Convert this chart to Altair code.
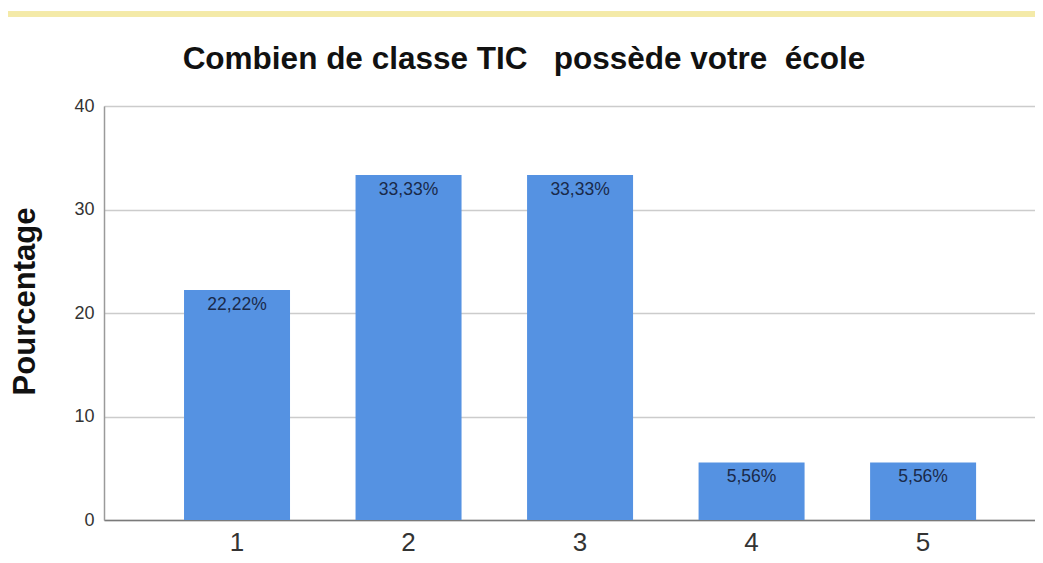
import altair as alt
import pandas as pd

categories = ["1", "2", "3", "4", "5"]
values = [22.22, 33.33, 33.33, 5.56, 5.56]
labels = ["22,22%", "33,33%", "33,33%", "5,56%", "5,56%"]
title_text = ["Combien de classe TIC\u00a0\u00a0 possède votre\u00a0 école"]

df = pd.DataFrame({"cat": categories, "pct": values, "label": labels})
tdf = pd.DataFrame({"t": title_text})

W, H = 931, 414

xscale = alt.Scale(paddingInner=0.382, paddingOuter=0.405, align=0.576)

base = alt.Chart(df)

bars = base.mark_bar(color="#5592e2").encode(
    x=alt.X("cat:N", scale=xscale, sort=categories,
            axis=alt.Axis(title=None, labelAngle=0, labelFontSize=26, labelColor="#333333",
                          labelFont="Liberation Sans", labelPadding=9, ticks=False,
                          domainColor="#7a7a7a", domainWidth=1.5, grid=False)),
    y=alt.Y("pct:Q", scale=alt.Scale(domain=[0, 40]),
            axis=alt.Axis(title="Pourcentage", values=[0, 10, 20, 30, 40], ticks=False,
                          labelFontSize=18, labelColor="#333333", labelFont="Liberation Sans",
                          labelPadding=10, titleFontSize=31, titleFont="Liberation Sans",
                          titleFontWeight="bold", titleColor="#111111",
                          titleX=-79, titleY=195, titleAngle=270, titleAlign="center",
                          titleBaseline="middle",
                          gridColor="#cccccc", gridWidth=1.5, domainColor="#9a9a9a",
                          domainWidth=1.5)),
)

text = base.mark_text(baseline="middle", dy=15, fontSize=17.5, color="#1a2a4a",
                      font="Liberation Sans").encode(
    x=alt.X("cat:N", scale=xscale, sort=categories),
    y="pct:Q",
    text="label:N",
)

title = alt.Chart(tdf).mark_text(fontSize=31.5, fontWeight="bold", font="Liberation Sans",
                                 color="#111111", align="center",
                                 baseline="alphabetic").encode(
    x=alt.value(420), y=alt.value(-37), text="t:N"
)

topline = base.mark_rule(color="#f4eaa8", strokeWidth=5).encode(
    x=alt.value(-96), x2=alt.value(W), y=alt.value(-92)
)

chart = alt.layer(bars, text, title, topline).properties(
    width=W, height=H,
    autosize=alt.AutoSizeParams(type="none"),
    padding={"left": 96, "top": 98, "right": 0, "bottom": 35},
).configure_view(stroke=None).configure(background="white")

chart.save("out.html", embed_options={"renderer": "svg", "actions": False})
